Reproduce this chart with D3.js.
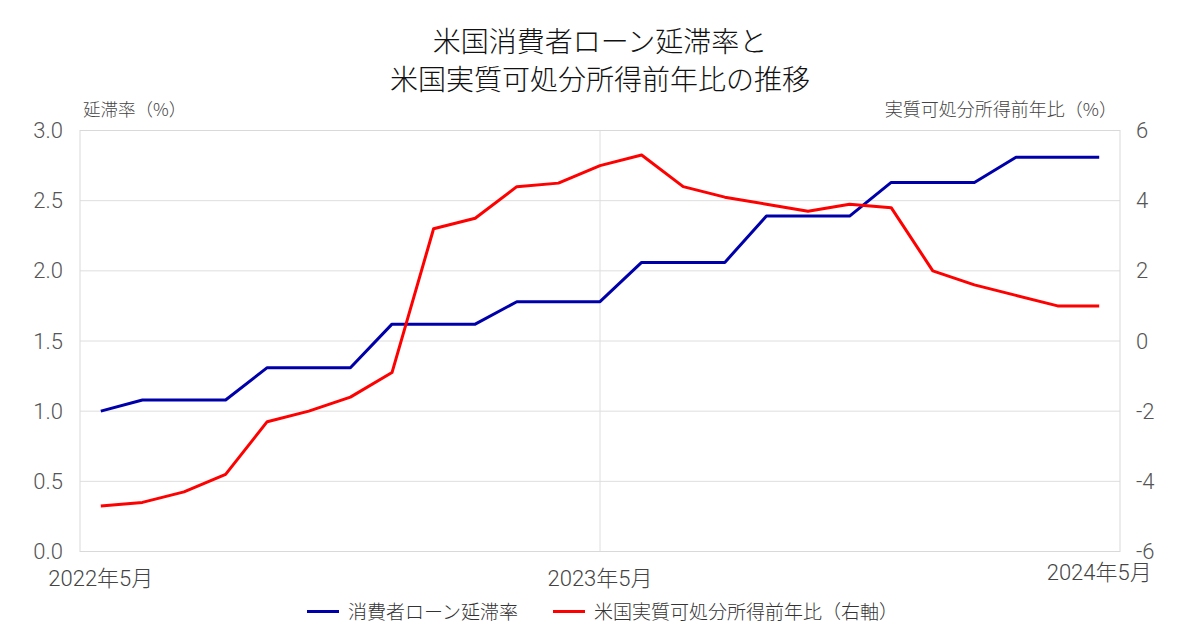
<!DOCTYPE html>
<html><head><meta charset="utf-8">
<script src="https://cdn.jsdelivr.net/npm/d3@7"></script>
<style>
body{margin:0;background:#fff;}
svg{display:block;font-family:Roboto,"Noto Sans CJK JP",sans-serif;}
</style></head>
<body><svg id="c" width="1200" height="640"></svg>
<script>
const months = ["2022-05","2022-06","2022-07","2022-08","2022-09","2022-10","2022-11","2022-12",
"2023-01","2023-02","2023-03","2023-04","2023-05","2023-06","2023-07","2023-08","2023-09","2023-10","2023-11","2023-12",
"2024-01","2024-02","2024-03","2024-04","2024-05"];
const delinquency = [1.00,1.08,1.08,1.08,1.31,1.31,1.31,1.62,1.62,1.62,1.78,1.78,1.78,2.06,2.06,2.06,2.39,2.39,2.39,2.63,2.63,2.63,2.81,2.81,2.81];
const incomeYoY = [-4.7,-4.6,-4.3,-3.8,-2.3,-2.0,-1.6,-0.9,3.2,3.5,4.4,4.5,5.0,5.3,4.4,4.1,3.9,3.7,3.9,3.8,2.0,1.6,1.3,1.0,1.0];
const leftTicks = [0,0.5,1.0,1.5,2.0,2.5,3.0];
const rightTicks = [-6,-4,-2,0,2,4,6];
const xLabels = [{m:"2022-05",t:"2022年5月"},{m:"2023-05",t:"2023年5月"},{m:"2024-05",t:"2024年5月"}];
const titleLines = ["米国消費者ローン延滞率と","米国実質可処分所得前年比の推移"];
const seriesNames = ["消費者ローン延滞率","米国実質可処分所得前年比（右軸）"];
const colors = ["#0000aa","#ff0000"];

const svg = d3.select("#c");
const L=80,R=1120,T=130.5,B=551.5;
const x = d3.scalePoint().domain(months).range([L,R]).padding(0.5);
const yL = d3.scaleLinear().domain([0,3]).range([B,T]);
const yR = d3.scaleLinear().domain([-6,6]).range([B,T]);

// grid
svg.append("g").selectAll("line").data(leftTicks).join("line")
  .attr("x1",L).attr("x2",R).attr("y1",d=>yL(d)).attr("y2",d=>yL(d))
  .attr("stroke","#dedede").attr("stroke-width",1);
svg.append("line").attr("x1",x("2023-05")).attr("x2",x("2023-05")).attr("y1",T).attr("y2",B).attr("stroke","#dedede");
svg.append("rect").attr("x",L).attr("y",T).attr("width",R-L).attr("height",B-T)
  .attr("fill","none").attr("stroke","#d9d9d9");

// left axis
const la = svg.append("g").attr("transform",`translate(${L},0)`)
  .call(d3.axisLeft(yL).tickValues(leftTicks).tickFormat(d3.format(".1f")).tickSize(0).tickPadding(17));
la.select(".domain").remove();
la.selectAll("text").attr("font-size",22).attr("fill","#555").attr("font-family","Roboto").attr("font-weight",300);

const ra = svg.append("g").attr("transform",`translate(${R},0)`)
  .call(d3.axisRight(yR).tickValues(rightTicks).tickFormat(d=>String(d)).tickSize(0).tickPadding(16));
ra.select(".domain").remove();
ra.selectAll("text").attr("font-size",22).attr("fill","#555").attr("font-family","Roboto").attr("font-weight",300);

// x labels
svg.append("g").selectAll("text").data(xLabels).join("text")
  .attr("x",d=>x(d.m)).attr("y",(d,i)=>i===2?580:586)
  .attr("text-anchor","middle").attr("font-size",22).attr("fill","#444").attr("font-weight",300)
  .text(d=>d.t);

// lines
const lineL = d3.line().x((d,i)=>x(months[i])).y(d=>yL(d));
const lineR = d3.line().x((d,i)=>x(months[i])).y(d=>yR(d));
svg.append("path").datum(delinquency).attr("d",lineL).attr("fill","none").attr("stroke",colors[0]).attr("stroke-width",3).attr("stroke-linejoin","round");
svg.append("path").datum(incomeYoY).attr("d",lineR).attr("fill","none").attr("stroke",colors[1]).attr("stroke-width",3).attr("stroke-linejoin","round");

// titles
svg.append("g").selectAll("text").data(titleLines).join("text")
  .attr("x",600).attr("y",(d,i)=>52+i*38).attr("text-anchor","middle")
  .attr("font-size",28).attr("fill","#111").attr("font-weight",300).attr("font-family","'Noto Sans CJK JP'").text(d=>d);

svg.append("text").attr("x",83).attr("y",116).attr("font-size",17.5).attr("fill","#444").attr("font-weight",300)
  .attr("font-family","'Noto Sans CJK JP'").text("延滞率（%）");
svg.append("text").attr("x",1117).attr("y",116).attr("text-anchor","end").attr("font-size",18).attr("fill","#444").attr("font-weight",300)
  .attr("font-family","'Noto Sans CJK JP'").text("実質可処分所得前年比（%）");

// legend
const leg = svg.append("g");
const legX = [307,553];
seriesNames.forEach((n,i)=>{
  leg.append("line").attr("x1",legX[i]).attr("x2",legX[i]+32).attr("y1",611.5).attr("y2",611.5).attr("stroke",colors[i]).attr("stroke-width",3);
  leg.append("text").attr("x",legX[i]+41).attr("y",619).attr("font-size",19).attr("fill","#333").attr("font-weight",300)
    .attr("font-family","'Noto Sans CJK JP'").text(n);
});
</script></body></html>
